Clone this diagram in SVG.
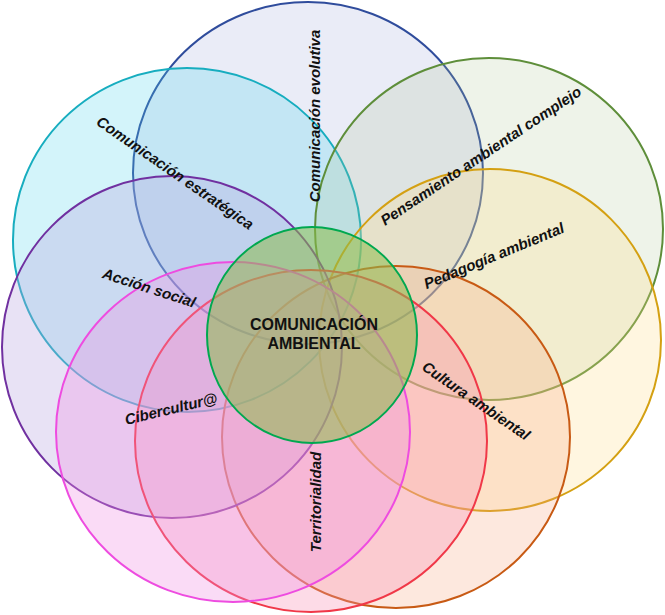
<svg xmlns="http://www.w3.org/2000/svg" width="665" height="615" viewBox="0 0 665 615">
<style>
.c{stroke-width:2}
.lbl{font-family:"Liberation Sans",Arial,sans-serif;font-size:15px;font-weight:bold;font-style:italic;fill:#111;text-anchor:middle}
.ctr{font-family:"Liberation Sans",Arial,sans-serif;font-size:16px;font-weight:bold;fill:#111;text-anchor:middle}
</style>
<rect width="665" height="615" fill="#fff"/>
<g id="evolutiva"><ellipse class="c" cx="308" cy="173" rx="175" ry="171" fill="#9ea8dc" fill-opacity="0.22" stroke="#2f4c9c"/></g>
<g id="estrategica"><ellipse class="c" cx="187" cy="240" rx="174" ry="172" fill="#50d4ec" fill-opacity="0.25" stroke="#17adbf"/></g>
<g id="pensamiento"><ellipse class="c" cx="489" cy="229" rx="174" ry="171" fill="#a8c490" fill-opacity="0.2" stroke="#5e8e3a"/></g>
<g id="pedagogia"><ellipse class="c" cx="490" cy="340" rx="171" ry="171" fill="#ffdc88" fill-opacity="0.26" stroke="#d4a012"/></g>
<g id="cultura"><ellipse class="c" cx="396" cy="437" rx="174" ry="171" fill="#f8a880" fill-opacity="0.26" stroke="#c85a14"/></g>
<g id="accion"><ellipse class="c" cx="172" cy="347" rx="170" ry="171" fill="#b8a4e0" fill-opacity="0.32" stroke="#7030a0"/></g>
<g id="territorialidad"><ellipse class="c" cx="311" cy="441" rx="176" ry="171" fill="#f890b4" fill-opacity="0.32" stroke="#f03848"/></g>
<g id="cibercultura"><ellipse class="c" cx="233" cy="432" rx="177" ry="170" fill="#f090e4" fill-opacity="0.32" stroke="#ee4ce0"/></g>
<g id="centro"><ellipse class="c" cx="312" cy="335" rx="105" ry="108" fill="#8cbc4c" fill-opacity="0.55" stroke="#00a850"/>
<text class="ctr" x="314" y="330">COMUNICACIÓN</text>
<text class="ctr" x="314" y="349">AMBIENTAL</text></g>
<g id="connectors"></g>
<g id="labels">
<text class="lbl" transform="translate(315,116) rotate(-90)" dy="5">Comunicación evolutiva</text>
<text class="lbl" transform="translate(175,173) rotate(34.6)" dy="5">Comunicación estratégica</text>
<text class="lbl" transform="translate(481,156) rotate(-33.7)" dy="5">Pensamiento ambiental complejo</text>
<text class="lbl" transform="translate(494,256) rotate(-22.4)" dy="5">Pedagogía ambiental</text>
<text class="lbl" transform="translate(476,401) rotate(34.4)" dy="5">Cultura ambiental</text>
<text class="lbl" transform="translate(149,288) rotate(18)" dy="5">Acción social</text>
<text class="lbl" transform="translate(171,409) rotate(-13.6)" dy="5">Cibercultur@</text>
<text class="lbl" transform="translate(316,502) rotate(-90)" dy="5">Territorialidad</text>
</g>
</svg>
